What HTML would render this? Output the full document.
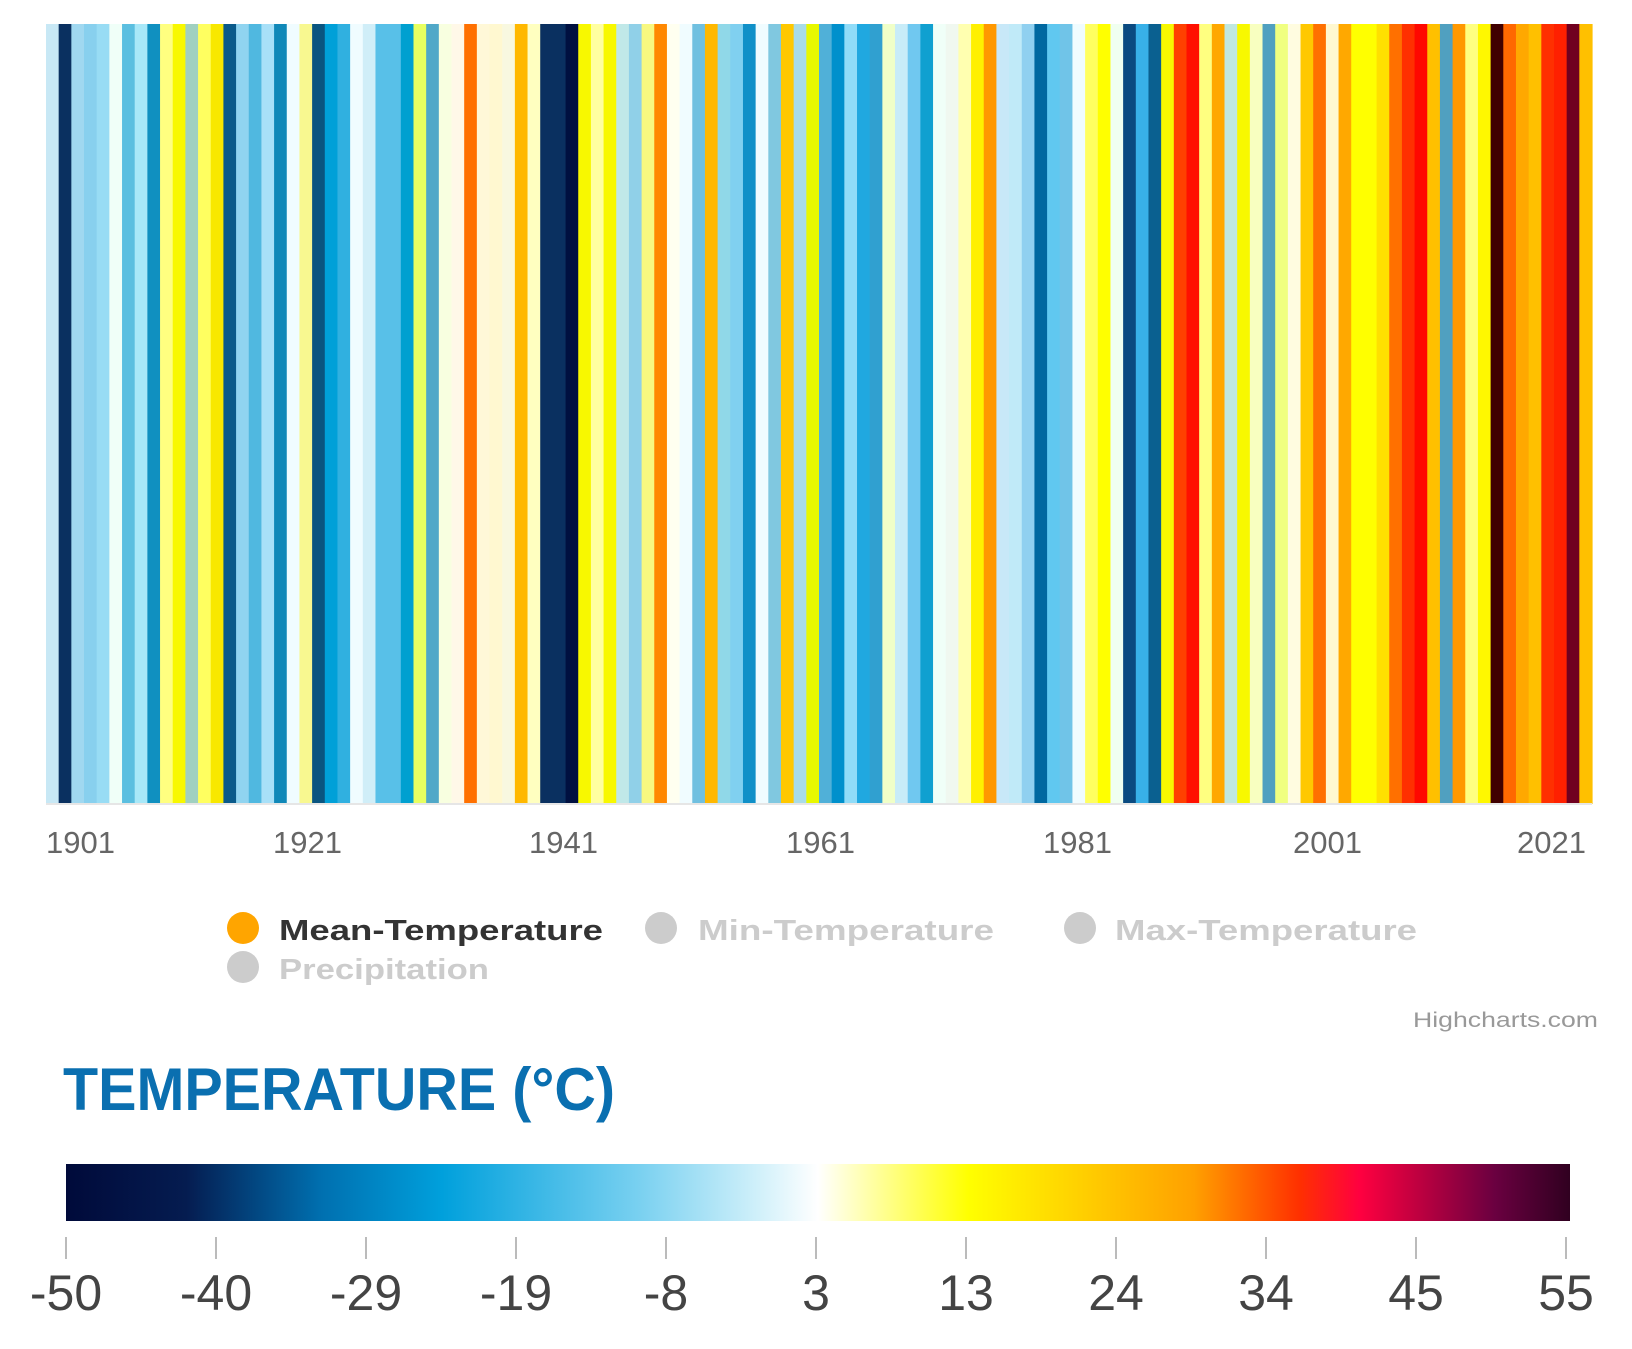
<!DOCTYPE html>
<html><head><meta charset="utf-8"><style>html,body{margin:0;padding:0;background:#fff}svg{display:block}</style></head>
<body>
<svg width="1632" height="1349" viewBox="0 0 1632 1349" xmlns="http://www.w3.org/2000/svg">
<defs>
<linearGradient id="cb" x1="0" x2="1" y1="0" y2="0">
<stop offset="0" stop-color="#000a3a"/>
<stop offset="0.08" stop-color="#051c50"/>
<stop offset="0.17" stop-color="#0070b0"/>
<stop offset="0.25" stop-color="#00a0dc"/>
<stop offset="0.38" stop-color="#78d0f0"/>
<stop offset="0.46" stop-color="#d0f0fa"/>
<stop offset="0.5" stop-color="#ffffff"/>
<stop offset="0.6" stop-color="#ffff00"/>
<stop offset="0.75" stop-color="#ffa000"/>
<stop offset="0.82" stop-color="#ff3000"/>
<stop offset="0.86" stop-color="#ff0040"/>
<stop offset="0.95" stop-color="#6a0040"/>
<stop offset="1" stop-color="#300020"/>
</linearGradient>
</defs>
<g id="stripes"></g>
<line x1="46" y1="804" x2="1592" y2="804" stroke="#e6e6e6" stroke-width="2"/>
<g font-family="Liberation Sans, sans-serif" font-size="31" fill="#666">
<text x="46" y="853">1901</text><text x="273" y="853">1921</text><text x="529" y="853">1941</text>
<text x="786" y="853">1961</text><text x="1043" y="853">1981</text><text x="1293" y="853">2001</text><text x="1517" y="853">2021</text>
</g>
<g font-family="Liberation Sans, sans-serif" font-size="29" font-weight="bold">
<circle cx="243" cy="928" r="16" fill="#ffa500"/>
<text x="279" y="940" fill="#333" textLength="324" lengthAdjust="spacingAndGlyphs">Mean-Temperature</text>
<circle cx="661" cy="928" r="16" fill="#ccc"/>
<text x="698" y="940" fill="#ccc" textLength="296" lengthAdjust="spacingAndGlyphs">Min-Temperature</text>
<circle cx="1080" cy="928" r="16" fill="#ccc"/>
<text x="1115" y="940" fill="#ccc" textLength="302" lengthAdjust="spacingAndGlyphs">Max-Temperature</text>
<circle cx="243" cy="967" r="16" fill="#ccc"/>
<text x="279" y="979" fill="#ccc" textLength="210" lengthAdjust="spacingAndGlyphs">Precipitation</text>
</g>
<text x="1598" y="1027" text-anchor="end" font-family="Liberation Sans, sans-serif" font-size="21" fill="#999" textLength="185" lengthAdjust="spacingAndGlyphs">Highcharts.com</text>
<text x="63" y="1110" font-family="Liberation Sans, sans-serif" font-size="60" font-weight="bold" fill="#0a6fb0" textLength="552" lengthAdjust="spacingAndGlyphs">TEMPERATURE (°C)</text>
<rect x="66" y="1164" width="1504" height="57" fill="url(#cb)"/>
<g id="ticks" stroke="#bbb" stroke-width="2"></g>
<g id="tl" font-family="Liberation Sans, sans-serif" font-size="50" fill="#444" text-anchor="middle"></g>
</svg>
<script>
var c="c8e8f5 0a3060 a0d8f0 88d0ee 98dcf4 f0fff8 5bbfe0 a8e8f8 1090c0 ffff80 f8f800 a0d0c0 ffff60 f8e800 0a5a8a 90d4f0 50b8e0 a8e0f8 1088b8 f0fcff f8f890 0a5580 00a0d8 30b0e0 f0fcff d0eef8 58c0e8 58c0e8 00a0d0 e8ff60 50a8c8 f8ffe0 fff8e8 ff7000 fff8d8 fff8d0 f8f8e0 ffb800 ffffc0 0a3060 0a3060 001040 f8f800 ffffa0 f8f800 c0e8e8 90d0e8 f8f880 ff8800 fffff0 f0fcff 70c0e0 ffb800 90d8e8 80d0f0 1090c8 f0fcff 80c8e0 ffc800 a8dce8 e8f800 50b0d8 0090cc 90dcf8 20a8e0 30a0d0 f0ffc8 c8ecf8 70c8f0 10a0d0 f0fff8 f0f8f0 ffffb0 fff000 ff9800 c8e8f8 c0eaf8 90d0f0 0068a0 60c8f0 70c4e8 f0fcff ffff60 ffff00 f0fff0 0a4a80 38b0e8 0a6090 f8f800 ff4000 ff1000 ffff80 ffa800 c0e8e0 f8f800 f8ffc0 50a0c0 f0ff80 fffce0 ffc800 ff7000 fff8d0 ffa800 ffff00 ffff00 ffe000 ff7000 ff3000 ff0800 ffc000 50a0c0 ff9800 ffff80 fff800 400000 ff6800 ffa800 ffc000 ff3000 ff2000 700020 ffc000".split(" ");
var NS="http://www.w3.org/2000/svg",g=document.getElementById("stripes"),x0=46,x1=1592,w=(x1-x0)/c.length;
c.forEach(function(col,i){var r=document.createElementNS(NS,"rect");r.setAttribute("x",x0+i*w);r.setAttribute("y",24);r.setAttribute("width",w+0.6);r.setAttribute("height",780);r.setAttribute("fill","#"+col);g.appendChild(r);});
var labs=["-50","-40","-29","-19","-8","3","13","24","34","45","55"],t=document.getElementById("ticks"),tl=document.getElementById("tl");
labs.forEach(function(l,i){var x=66+i*(1566-66)/10;var ln=document.createElementNS(NS,"line");ln.setAttribute("x1",x);ln.setAttribute("x2",x);ln.setAttribute("y1",1237);ln.setAttribute("y2",1259);t.appendChild(ln);
var tx=document.createElementNS(NS,"text");tx.setAttribute("x",x);tx.setAttribute("y",1310);tx.textContent=l;tl.appendChild(tx);});
</script>
</body></html>
